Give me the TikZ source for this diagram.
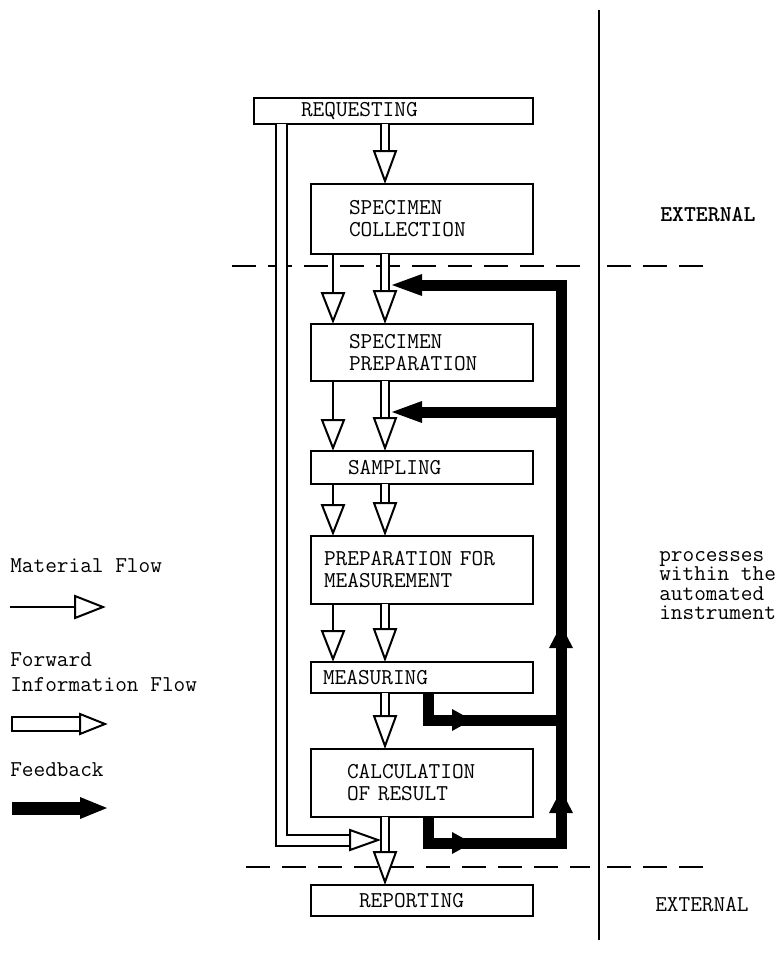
\documentclass[tikz,border=0pt]{standalone}
\usetikzlibrary{calc}
\newcommand\dgfont{\fontsize{17}{16.5}\selectfont\ttfamily}
\newcommand\ohead[4]{\filldraw[ohd,shift={(#1)},rotate=#2] (-#3,-#4) -- (0,0) -- (-#3,#4) -- cycle;}
\newcommand\fhead[4]{\fill[shift={(#1)},rotate=#2] (-#3,-#4) -- (0,0) -- (-#3,#4) -- cycle;}
\begin{document}
\begin{tikzpicture}[x=0.75pt,y=-0.75pt,
  box/.style={draw, line width=1.5pt, rectangle, anchor=north west, align=left, font=\dgfont, inner ysep=0pt},
  ohd/.style={draw=black, fill=white, line width=1.5pt, line join=miter},
  mat/.style={draw, line width=1.5pt},
  info/.style={draw, line width=1.5pt, double, double distance=4.5pt, line join=miter},
  fb/.style={draw, line width=8.25pt, line join=miter},
  dashln/.style={draw, line width=1.8pt, dash pattern=on 18pt off 9pt},
  txt/.style={font=\dgfont, inner sep=0pt, align=left}
]
\useasboundingbox (0,0) rectangle (780,971);

% boxes
\node[box, minimum width=209.25pt, minimum height=19.5pt, text width=138.75pt, inner xsep=35.25pt] (req) at (253,97) {REQUESTING};
\node[box, minimum width=166.5pt, minimum height=52.5pt, text width=109.5pt, inner xsep=28.5pt] (coll) at (310,183) {SPECIMEN\\COLLECTION};
\node[box, minimum width=166.5pt, minimum height=42.75pt, text width=109.5pt, inner xsep=28.5pt] (prep) at (310,323) {SPECIMEN\\PREPARATION};
\node[box, minimum width=166.5pt, minimum height=24.75pt, text width=111pt, inner xsep=27.75pt] (samp) at (310,450) {SAMPLING};
\node[box, minimum width=166.5pt, minimum height=51pt, text width=147pt, inner xsep=9.75pt] (pfm) at (310,535) {PREPARATION FOR\\MEASUREMENT};
\node[box, minimum width=166.5pt, minimum height=23.25pt, text width=148.5pt, inner xsep=9pt] (meas) at (310,661) {MEASURING};
\node[box, minimum width=166.5pt, minimum height=51pt, text width=112.5pt, inner xsep=27pt] (calc) at (310,748) {CALCULATION\\OF RESULT};
\node[box, minimum width=166.5pt, minimum height=23.25pt, text width=94.5pt, inner xsep=36pt] (rep) at (310,884) {REPORTING};

% side texts
\node[txt, anchor=west, font=\dgfont\bfseries] (ext1) at (660,215) {EXTERNAL};
\node[txt, anchor=west, font={\fontsize{17}{14.6}\selectfont\ttfamily\lineskiplimit=-20pt}] (proc) at (659,585.5) {processes\\within the\\automated\\instrument};
\node[txt, anchor=west] (ext2) at (655,905) {EXTERNAL};

% legend texts
\node[txt, anchor=west] (lgm) at (10,566) {Material Flow};
\node[txt, anchor=west, font={\fontsize{17}{18.75}\selectfont\ttfamily}] (lgi) at (10,672.5) {Forward\\Information Flow};
\node[txt, anchor=west] (lgf) at (10,770) {Feedback};

% separators
\draw[line width=1.5pt] (599,10) -- (599,940);
\draw[dashln] (232,266) -- (590,266);
\draw[dashln] (607,266) -- (713,266);
\draw[dashln] (246,867) -- (590,867);
\draw[dashln] (607,867) -- (713,867);

% guide coordinates
\coordinate (xm) at (333,0);
\coordinate (xi) at (385,0);
\coordinate (xL) at (281.5,0);
\coordinate (xf) at (428,0);
\coordinate (xr) at (561,0);

% material flow
\foreach \a/\b in {coll/prep,prep/samp,samp/pfm,pfm/meas}{
  \coordinate (mt) at ($(\b.north -| xm)+(0,-2)$);
  \draw[mat] (\a.south -| xm) -- ($(mt)+(0,-27)$);
  \ohead{mt}{-90}{28}{11}
}

% forward information flow
\foreach \a/\b in {req/coll,coll/prep,prep/samp,samp/pfm,pfm/meas,meas/calc,calc/rep}{
  \coordinate (it) at ($(\b.north -| xi)+(0,-2)$);
  \draw[info] ($(\a.south -| xi)+(0,-1)$) -- ($(it)+(0,-29)$);
  \ohead{it}{-90}{30}{11}
}
\coordinate (yL) at (0,840);
\coordinate (tL) at (378,840);
\draw[info, double distance=6.75pt] ($(req.south -| xL)+(0,-1)$) -- (xL |- yL) -- ($(tL)+(-27,0)$);
\ohead{tL}{0}{28}{10}

% feedback
\coordinate (yc) at (0,843);
\coordinate (ym) at (0,720);
\coordinate (fbT) at (392,285);
\coordinate (fbS) at (392,412);
\draw[fb] (calc.south -| xf) -- (xf |- yc) -- (xr |- yc) -- (xr |- fbT) -- ($(fbT)+(28,0)$);
\draw[fb] (meas.south -| xf) -- (xf |- ym) -- (xr |- ym);
\draw[fb] (xr |- fbS) -- ($(fbS)+(28,0)$);
\fhead{fbT}{180}{30}{11}
\fhead{fbS}{180}{30}{11}
\coordinate (u1) at (561,625);
\coordinate (u2) at (561,790);
\fhead{u1}{90}{23}{12}
\fhead{u2}{90}{23}{12}
\coordinate (r1) at (472,720);
\coordinate (r2) at (472,843);
\fhead{r1}{0}{20}{11}
\fhead{r2}{0}{20}{11}

% legend arrows
\coordinate (lm0) at (10,607);
\coordinate (lm1) at (103,607);
\draw[mat] (lm0) -- ($(lm1)+(-27,0)$);
\ohead{lm1}{0}{28}{11}
\coordinate (li1) at (105,724);
\draw[line width=1.5pt] (12,717) rectangle (80,731);
\ohead{li1}{0}{25}{10}
\coordinate (lf0) at (12,808);
\coordinate (lf1) at (107,808);
\draw[fb, line width=9.75pt] (lf0) -- ($(lf1)+(-26,0)$);
\fhead{lf1}{0}{27}{11}
\end{tikzpicture}
\end{document}
